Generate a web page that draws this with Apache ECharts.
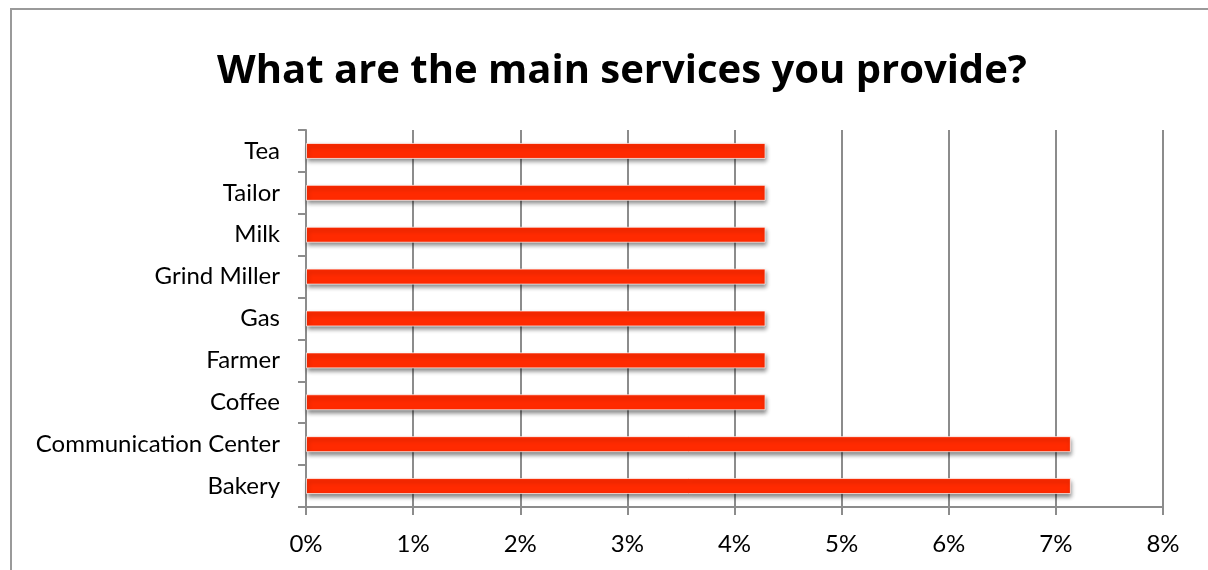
<!DOCTYPE html>
<html>
<head>
<meta charset="utf-8">
<script src="https://cdn.jsdelivr.net/npm/echarts@6/dist/echarts.min.js"></script>
<style>
  html, body { margin: 0; padding: 0; background: #fff; }
  #chart { width: 1208px; height: 570px; }
</style>
</head>
<body>
<div id="chart"></div>
<script>
// Services listed bottom-to-top (category axis starts at the bottom)
const categories = ['Bakery', 'Communication Center', 'Coffee', 'Farmer', 'Gas', 'Grind Miller', 'Milk', 'Tailor', 'Tea'];
const shares = [7.14, 7.14, 4.29, 4.29, 4.29, 4.29, 4.29, 4.29, 4.29];
const percentTicks = [0, 1, 2, 3, 4, 5, 6, 7, 8];

const chart = echarts.init(document.getElementById('chart'), null, { renderer: 'canvas' });
const font = 'Lato, "Open Sans", sans-serif';

chart.setOption({
  animation: false,
  backgroundColor: '#fff',
  graphic: [{
    type: 'rect',
    shape: { x: 11, y: 9, width: 1230, height: 600 },
    style: { fill: 'none', stroke: '#9a9a9a', lineWidth: 2 },
    silent: true
  }],
  title: {
    text: 'What are the main services you provide?',
    left: 617,
    textAlign: 'center',
    top: 47,
    textStyle: { fontFamily: '"Open Sans", sans-serif', fontWeight: 'bold', fontSize: 40, color: '#000' }
  },
  grid: { left: 306, right: 45, top: 130, bottom: 63, containLabel: false },
  xAxis: {
    type: 'value',
    min: percentTicks[0],
    max: percentTicks[percentTicks.length - 1],
    interval: 1,
    axisLine: { show: true, lineStyle: { color: '#8c8c8c', width: 2 } },
    axisTick: { show: true, length: 8, lineStyle: { color: '#8c8c8c', width: 2 } },
    axisLabel: { formatter: '{value}%', margin: 25, fontFamily: font, fontSize: 24, color: '#000' },
    splitLine: { show: true, lineStyle: { color: '#8c8c8c', width: 2 } }
  },
  yAxis: {
    type: 'category',
    data: categories,
    axisLine: { show: true, lineStyle: { color: '#8c8c8c', width: 2 } },
    axisTick: { show: true, length: 8, alignWithLabel: false, lineStyle: { color: '#8c8c8c', width: 2 } },
    axisLabel: { margin: 26, fontFamily: font, fontSize: 24, color: '#000' },
    splitLine: { show: false }
  },
  series: [{
    type: 'bar',
    data: shares,
    barWidth: 16,
    itemStyle: {
      color: '#ff2a00',
      borderColor: 'rgba(255,255,255,0.7)',
      borderWidth: 1,
      shadowColor: 'rgba(0,0,0,0.45)',
      shadowBlur: 4,
      shadowOffsetX: 1,
      shadowOffsetY: 3
    }
  }]
});
</script>
</body>
</html>
